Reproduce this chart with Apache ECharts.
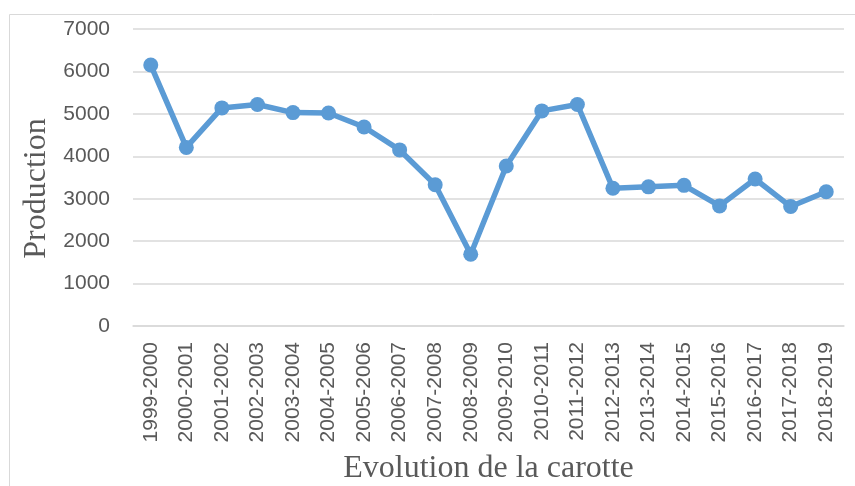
<!DOCTYPE html>
<html>
<head>
<meta charset="utf-8">
<script src="https://cdn.jsdelivr.net/npm/echarts@6/dist/echarts.min.js"></script>
<style>
  html, body { margin: 0; padding: 0; background: #fff; }
  #chart { width: 855px; height: 486px; }
</style>
</head>
<body>
<div id="chart"></div>
<script>
const seasons = [
  '1999-2000', '2000-2001', '2001-2002', '2002-2003', '2003-2004',
  '2004-2005', '2005-2006', '2006-2007', '2007-2008', '2008-2009',
  '2009-2010', '2010-2011', '2011-2012', '2012-2013', '2013-2014',
  '2014-2015', '2015-2016', '2016-2017', '2017-2018', '2018-2019'
]
const production = [
  6150, 4210, 5140, 5220, 5030,
  5020, 4690, 4150, 3330, 1690,
  3770, 5070, 5220, 3245, 3280,
  3315, 2830, 3465, 2815, 3165
]

const gray = '#595959'
const lineColor = '#5b9bd5'

const chart = echarts.init(document.getElementById('chart'))
chart.setOption({
  animation: false,
  // light frame around the chart area, like the Excel chart border
  graphic: [{
    type: 'rect',
    shape: { x: 9.5, y: 14.5, width: 900, height: 600 },
    style: { fill: 'none', stroke: '#d9d9d9', lineWidth: 1 },
    silent: true
  }],
  grid: {
    left: 133,
    right: 11,
    top: 29,
    bottom: 160,
    outerBoundsMode: 'none'
  },
  xAxis: {
    type: 'category',
    data: seasons,
    boundaryGap: true,
    name: 'Evolution de la carotte',
    nameLocation: 'middle',
    nameGap: 127,
    nameTextStyle: {
      fontFamily: 'Liberation Serif',
      fontSize: 32,
      color: gray
    },
    axisLine: { lineStyle: { color: '#d9d9d9', width: 1.5 } },
    axisTick: { show: false },
    axisLabel: {
      rotate: 90,
      interval: 0,
      margin: 16,
      fontFamily: 'Liberation Sans',
      fontSize: 21,
      color: gray
    }
  },
  yAxis: {
    type: 'value',
    min: 0,
    max: 7000,
    interval: 1000,
    name: 'Production',
    nameLocation: 'middle',
    nameGap: 73,
    nameTextStyle: {
      fontFamily: 'Liberation Serif',
      fontSize: 32,
      color: gray,
      padding: [0, 22, 0, 0]
    },
    axisLine: { show: false },
    axisTick: { show: false },
    axisLabel: {
      margin: 23,
      fontFamily: 'Liberation Sans',
      fontSize: 21,
      color: gray,
      formatter: (v) => String(v)
    },
    splitLine: { lineStyle: { color: '#d9d9d9', width: 1.5 } }
  },
  series: [{
    type: 'line',
    data: production,
    symbol: 'circle',
    symbolSize: 15,
    lineStyle: { color: lineColor, width: 5.5 },
    itemStyle: { color: lineColor }
  }]
})
</script>
</body>
</html>
